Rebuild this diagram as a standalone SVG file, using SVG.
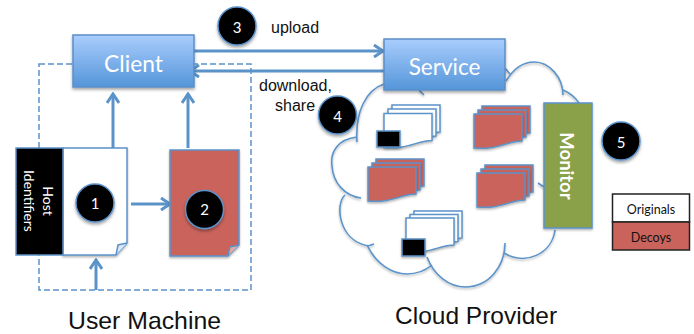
<svg xmlns="http://www.w3.org/2000/svg" width="694" height="334" viewBox="0 0 694 334">
<style>
.sans{font-family:"Liberation Sans",Arial,sans-serif;fill:#111}
.lato{font-family:"Lato","Open Sans",sans-serif}
.num{font-family:"Lato","Open Sans",sans-serif;font-size:15px;fill:#fff;text-anchor:middle}
.box{stroke:#5b8fc7;stroke-width:1.5;fill:url(#blue);filter:url(#sh)}
.circ{fill:#000;stroke:#5b93cc;stroke-width:1.5;filter:url(#sh)}
.ln{fill:none;stroke:#5b93c9;stroke-width:3}
.cl{fill:none;stroke:#5b93c9;stroke-width:1.6}
.doc{stroke:#5b93c9;stroke-width:1.5;filter:url(#sh2)}
.w{fill:#fff}.r{fill:#c9635c}
.blk{fill:#000;stroke:#5b93c9;stroke-width:1.5;filter:url(#sh2)}
</style>
<defs>
<linearGradient id="blue" x1="0" y1="0" x2="0" y2="1"><stop offset="0" stop-color="#a9cdfd"/><stop offset="1" stop-color="#5495d9"/></linearGradient>
<filter id="sh" x="-20%" y="-20%" width="140%" height="140%"><feDropShadow dx="0" dy="2" stdDeviation="1.5" flood-color="#000" flood-opacity=".35"/></filter>
<filter id="sh2" x="-20%" y="-20%" width="140%" height="140%"><feDropShadow dx="0" dy="1.5" stdDeviation="1" flood-color="#000" flood-opacity=".3"/></filter>
<path id="wave" d="M0 0H48V27C33 27 25 36 0 34Z"/>
<marker id="arr" viewBox="0 0 12 14" refX="10" refY="7" markerWidth="12" markerHeight="14" markerUnits="userSpaceOnUse" orient="auto"><path d="M1 1L10 7L1 13" fill="none" stroke="#5b93c9" stroke-width="3"/></marker>
</defs>

<g id="user-machine-boundary"><rect x="39" y="64" width="212" height="226" fill="#fff" stroke="#5b93c9" stroke-width="1.5" stroke-dasharray="6 3"/></g>

<g id="cloud">
<path class="cl" style="filter:url(#sh2)" d="M384 84C366 90 355 112 357 142M357 137C338 139 330 152 332 166C333 183 345 196 361 198M345 195C335 204 338 240 368 246L374 244M367 245C376 264 392 274 407 274C418 274 426 270 432 265M427 257C434 276 450 287 465 287C490 287 505 265 505 243M504 253C525 266 552 254 555 230M538 183L544 187M506 81C514 68 524 62 534 62C550 62 563 78 563 95M563 90C570 93 575 97 579 103M505 68L510 74M419 90L424 95"/>
</g>

<g id="connectors">
<path class="ln" d="M194 51H383" marker-end="url(#arr)"/>
<path class="ln" d="M384 71H190" marker-end="url(#arr)"/>
<path class="ln" d="M113 148V94" marker-end="url(#arr)"/>
<path class="ln" d="M188 148V94" marker-end="url(#arr)"/>
<path class="ln" d="M131 204H170" marker-end="url(#arr)"/>
<path class="ln" d="M96 290V260" marker-end="url(#arr)"/>
</g>

<g id="client"><rect class="box" x="73" y="35" width="121" height="52"/><text class="lato" x="133.500" y="72" font-size="22.800" fill="#fff" text-anchor="middle">Client</text></g>
<g id="service"><rect class="box" x="384" y="39" width="121" height="51"/><text class="lato" x="444.500" y="75" font-size="22.500" fill="#fff" text-anchor="middle">Service</text></g>

<g id="original-doc">
<path class="doc w" d="M63 148H127V243L116 255H63Z"/>
<path d="M116 255L118 245L127 243" fill="#dce8f5" stroke="#5b93c9" stroke-width="1.5"/>
<rect x="16" y="148" width="47" height="107" fill="#000" stroke="#5b93c9" stroke-width="1.5"/>
<text class="lato" font-size="14" fill="#fff" text-anchor="middle" transform="translate(40 201) rotate(90)"><tspan x="0" dy="-3">Host</tspan><tspan x="0" dy="19">Identifiers</tspan></text>
</g>
<g id="decoy-doc">
<path class="doc r" d="M170 150H239V245L228 256H170Z"/>
<path d="M228 256L230 247L239 245" fill="#e5a9a5" stroke="#5b93c9" stroke-width="1.5"/>
</g>

<g id="stack-originals-top">
<use href="#wave" class="doc w" transform="translate(392 105)"/><use href="#wave" class="doc w" transform="translate(388 109)"/><use href="#wave" class="doc w" transform="translate(384 113.500)"/>
<rect class="blk" x="377" y="131" width="23" height="16"/>
</g>
<g id="stack-decoys-top">
<use href="#wave" class="doc r" transform="translate(482 106)"/><use href="#wave" class="doc r" transform="translate(478 110)"/><use href="#wave" class="doc r" transform="translate(474 114)"/>
</g>
<g id="stack-decoys-left">
<use href="#wave" class="doc r" transform="translate(376 159)"/><use href="#wave" class="doc r" transform="translate(372 163)"/><use href="#wave" class="doc r" transform="translate(368 167)"/>
</g>
<g id="stack-decoys-right">
<use href="#wave" class="doc r" transform="translate(485 165)"/><use href="#wave" class="doc r" transform="translate(481 169)"/><use href="#wave" class="doc r" transform="translate(477 173)"/>
</g>
<g id="stack-originals-bottom">
<use href="#wave" class="doc w" transform="translate(414 211)"/><use href="#wave" class="doc w" transform="translate(410 214.500)"/><use href="#wave" class="doc w" transform="translate(406 218)"/>
<rect class="blk" x="402" y="239" width="23" height="17"/>
</g>

<g id="monitor"><rect x="544" y="103" width="48" height="125" fill="#8aa04a" stroke="#5b93c9" stroke-width="1.5" style="filter:url(#sh2)"/><text class="lato" font-size="18.500" font-weight="700" fill="#fff" text-anchor="middle" transform="translate(560 166) rotate(90)">Monitor</text></g>

<g id="step-1"><circle class="circ" cx="95" cy="203" r="19"/><text class="num" x="95" y="209">1</text></g>
<g id="step-2"><circle class="circ" cx="204.500" cy="209.500" r="19"/><text class="num" x="204.500" y="215">2</text></g>
<g id="step-3"><circle class="circ" cx="237" cy="26" r="19"/><text class="num" x="237" y="33">3</text></g>
<g id="step-4"><circle class="circ" cx="337.500" cy="115" r="19"/><text class="num" x="337.500" y="122">4</text></g>
<g id="step-5"><circle class="circ" cx="621" cy="141" r="19"/><text class="num" x="621" y="148">5</text></g>

<g id="legend">
<rect x="612.500" y="194" width="77" height="28" fill="#fff" stroke="#222" stroke-width="1.500"/>
<rect x="612.500" y="222" width="77" height="28" fill="#c9635c" stroke="#222" stroke-width="1.500"/>
<text class="lato" x="651" y="214" font-size="12.500" fill="#111" text-anchor="middle">Originals</text>
<text class="lato" x="651" y="242" font-size="12.500" fill="#111" text-anchor="middle">Decoys</text>
</g>

<text class="sans" x="271" y="33" font-size="16">upload</text>
<text class="sans" x="259" y="91" font-size="16">download,</text>
<text class="sans" x="275" y="111" font-size="16">share</text>
<text class="sans" x="68" y="329" font-size="24.800">User Machine</text>
<text class="sans" x="395" y="324" font-size="24.500">Cloud Provider</text>
</svg>
